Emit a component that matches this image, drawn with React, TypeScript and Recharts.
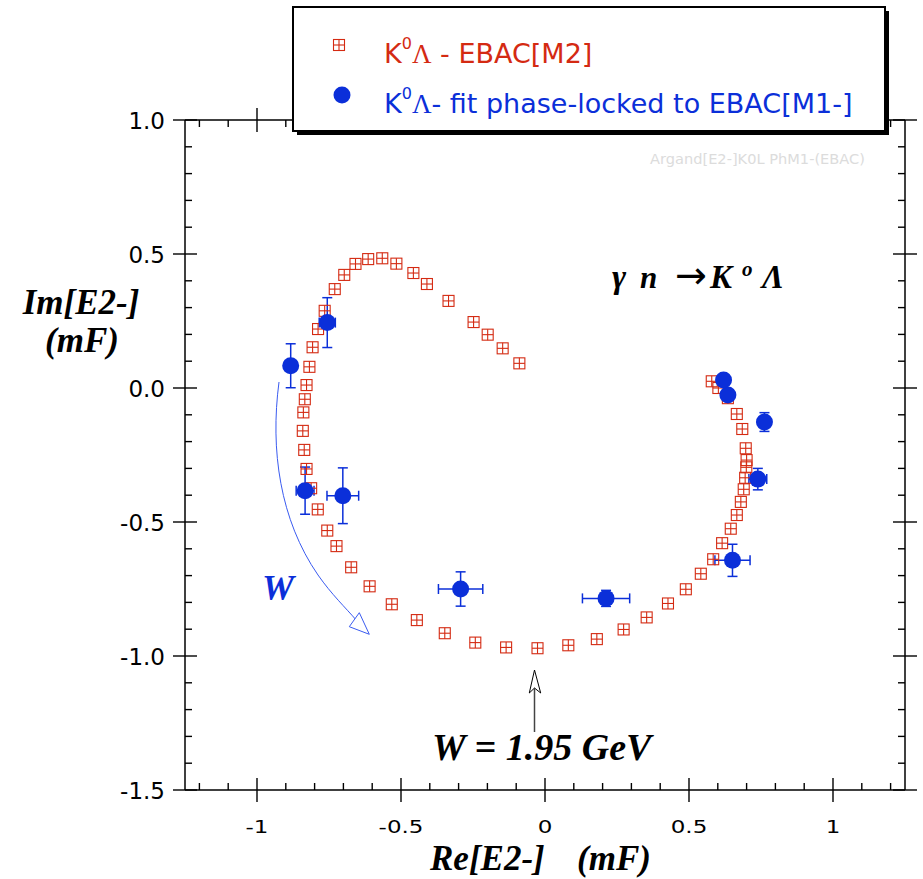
import React from "react";
import { ScatterChart, Scatter, XAxis, YAxis, ErrorBar } from "recharts";

/* ── data (mF) ───────────────────────────────────────────── */
// K0 Lambda - EBAC[M2], red squares, ordered along W
const ebacRe = [
  -0.089, -0.147, -0.199, -0.248, -0.335, -0.41, -0.457, -0.516, -0.565, -0.614,
  -0.658, -0.697, -0.73, -0.765, -0.788, -0.807, -0.818, -0.828, -0.834, -0.839,
  -0.841, -0.836, -0.828, -0.812, -0.789, -0.756, -0.724, -0.673, -0.609, -0.532,
  -0.445, -0.348, -0.242, -0.135, -0.026, 0.081, 0.18, 0.273, 0.353, 0.427,
  0.489, 0.541, 0.584, 0.615, 0.645, 0.666, 0.68, 0.69, 0.695, 0.699,
  0.7, 0.697, 0.685, 0.666, 0.635, 0.602, 0.579,
];
const ebacIm = [
  0.092, 0.148, 0.199, 0.246, 0.325, 0.388, 0.429, 0.464, 0.484, 0.481,
  0.463, 0.422, 0.369, 0.288, 0.22, 0.152, 0.079, 0.011, -0.042, -0.091,
  -0.16, -0.231, -0.302, -0.374, -0.453, -0.532, -0.59, -0.669, -0.74, -0.807,
  -0.866, -0.915, -0.95, -0.968, -0.971, -0.96, -0.937, -0.901, -0.856, -0.804,
  -0.751, -0.693, -0.639, -0.579, -0.525, -0.474, -0.425, -0.378, -0.335, -0.296,
  -0.269, -0.225, -0.153, -0.097, -0.038, 0.0, 0.025,
];

// K0 Lambda fit phase-locked to EBAC[M1-], blue dots
const fitRe = [-0.883, -0.756, -0.833, -0.702, -0.293, 0.212, 0.651, 0.739, 0.762, 0.635, 0.62];
const fitIm = [0.083, 0.244, -0.383, -0.402, -0.75, -0.785, -0.643, -0.34, -0.127, -0.026, 0.03];
const fitReErr = [0.02, 0.028, 0.031, 0.055, 0.077, 0.082, 0.061, 0.031, 0.02, 0.015, 0.015];
const fitImErr = [0.082, 0.093, 0.088, 0.104, 0.064, 0.03, 0.06, 0.04, 0.035, 0.015, 0.015];

// axes
const xTicks = [
  -1.2, -1.1, -1, -0.9, -0.8, -0.7, -0.6, -0.5, -0.4, -0.3, -0.2, -0.1, 0,
  0.1, 0.2, 0.3, 0.4, 0.5, 0.6, 0.7, 0.8, 0.9, 1, 1.1, 1.2,
];
const yTicks = [
  -1.5, -1.4, -1.3, -1.2, -1.1, -1, -0.9, -0.8, -0.7, -0.6, -0.5, -0.4, -0.3,
  -0.2, -0.1, 0, 0.1, 0.2, 0.3, 0.4, 0.5, 0.6, 0.7, 0.8, 0.9, 1,
];
const xMajor = [-1, -0.5, 0, 0.5, 1];
const xMajorLabels = ["-1", "-0.5", "0", "0.5", "1"];
const yMajor = [1, 0.5, 0, -0.5, -1, -1.5];
const yMajorLabels = ["1.0", "0.5", "0.0", "-0.5", "-1.0", "-1.5"];

const ebac = ebacRe.map((x, i) => ({ x, y: ebacIm[i] }));
const fit = fitRe.map((x, i) => ({ x, y: fitIm[i], ex: fitReErr[i], ey: fitImErr[i] }));

const RED = "#d42a12";
const BLUE = "#0b2fd9";
const SANS = "'DejaVu Sans', sans-serif";
const SERIF = "'Liberation Serif', serif";

/* ── ticks: major cross the frame, minor point inward ────── */
// eslint-disable-next-line @typescript-eslint/no-explicit-any
function AxisTick(props: any) {
  const { x, y, payload, side } = props;
  const v = payload.value as number;
  const majors = side === "bottom" || side === "top" ? xMajor : yMajor;
  const labels = side === "bottom" ? xMajorLabels : yMajorLabels;
  const mi = majors.findIndex((m) => Math.abs(m - v) < 1e-6);
  const major = mi >= 0;
  const st = { stroke: "#000", strokeWidth: 1.4 };
  let line;
  if (side === "bottom" || side === "top") {
    if (major) line = <line x1={x} y1={y - 12} x2={x} y2={y + 12} {...st} />;
    else if (side === "bottom") line = <line x1={x} y1={y - 7} x2={x} y2={y} {...st} />;
    else line = <line x1={x} y1={y} x2={x} y2={y + 7} {...st} />;
  } else {
    if (major) line = <line x1={x - 12} y1={y} x2={x + 12} y2={y} {...st} />;
    else if (side === "left") line = <line x1={x} y1={y} x2={x + 7} y2={y} {...st} />;
    else line = <line x1={x - 7} y1={y} x2={x} y2={y} {...st} />;
  }
  return (
    <g>
      {line}
      {major && side === "bottom" && (
        <g transform={`translate(${x},${y + 43}) scale(1,0.8)`}>
          <text textAnchor="middle" fontFamily={SANS} fontSize={23} fill="#000">
            {labels[mi]}
          </text>
        </g>
      )}
      {major && side === "left" && (
        <text x={x - 20} y={y + 8.5} textAnchor="end" fontFamily={SANS} fontSize={23} fill="#000">
          {labels[mi]}
        </text>
      )}
    </g>
  );
}

function RedSquare({ cx, cy }: { cx: number; cy: number }) {
  const h = 5.5;
  return (
    <g stroke={RED} strokeWidth={1.1} fill="none">
      <rect x={cx - h} y={cy - h} width={2 * h} height={2 * h} />
      <line x1={cx} y1={cy - h} x2={cx} y2={cy + h} />
      <line x1={cx - h} y1={cy} x2={cx + h} y2={cy} />
    </g>
  );
}

function BlueDot({ cx, cy }: { cx: number; cy: number }) {
  return <circle cx={cx} cy={cy} r={8.5} fill={BLUE} />;
}

/* ── annotations on top of the plot ──────────────────────── */
function Overlay() {
  const bi = { fontFamily: SERIF, fontWeight: 700, fontStyle: "italic" as const };
  return (
    <svg
      width={923}
      height={879}
      style={{ position: "absolute", left: 0, top: 0, pointerEvents: "none" }}
    >
      {/* legend */}
      <rect x={297} y={11} width={592} height={124} fill="#000" />
      <rect x={293} y={7} width={592} height={124} fill="#fff" stroke="#000" strokeWidth={2} />
      <RedSquare cx={339} cy={45} />
      <text x={384} y={63} fontFamily={SANS} fontSize={27} fill={RED}>
        K
        <tspan fontSize={16} dy={-14}>0</tspan>
        <tspan fontFamily={SERIF} dy={14}>Λ</tspan>
        <tspan> - EBAC[M2]</tspan>
      </text>
      <BlueDot cx={342} cy={95} />
      <text x={384} y={113} fontFamily={SANS} fontSize={27} fill={BLUE}>
        K
        <tspan fontSize={16} dy={-14}>0</tspan>
        <tspan fontFamily={SERIF} dy={14}>Λ</tspan>
        <tspan>- fit phase-locked to EBAC[M1-]</tspan>
      </text>

      <text x={650} y={164} fontFamily={SANS} fontSize={14.6} fill="#dcdcdc">
        Argand[E2-]K0L PhM1-(EBAC)
      </text>

      {/* reaction */}
      <text y={288} fontSize={31} fill="#000" {...bi}>
        <tspan x={612} fontSize={34}>γ</tspan>
        <tspan x={640}>n</tspan>
        <tspan x={675} fontFamily={SANS} fontStyle="normal" fontWeight={400} fontSize={38}>→</tspan>
        <tspan x={710} fontSize={33}>K</tspan>
        <tspan x={742} dy={-12} fontSize={21}>o</tspan>
        <tspan x={762} dy={12} fontSize={33}>Λ</tspan>
      </text>

      {/* axis titles */}
      <text x={81} y={314} textAnchor="middle" fontSize={35} fill="#000" {...bi}>
        Im[E2-]
      </text>
      <text x={82} y={352} textAnchor="middle" fontSize={35} fill="#000" {...bi}>
        (mF)
      </text>
      <text x={430} y={870} fontSize={35} fill="#000" {...bi}>
        Re[E2-]
      </text>
      <text x={577} y={870} fontSize={35} fill="#000" {...bi}>
        (mF)
      </text>

      {/* W direction */}
      <path
        d="M279,382 C270,450 280,520 318,575 C332,595 345,607 357,621"
        fill="none"
        stroke="#3a5bf0"
        strokeWidth={1}
      />
      <path d="M349.3,626.7 L359.3,612.7 L369.3,634.3 Z" fill="#fff" stroke="#3a5bf0" strokeWidth={1} />
      <text x={262} y={600} fontSize={36} fill={BLUE} {...bi}>
        W
      </text>

      {/* W = 1.95 GeV pointer */}
      <line x1={534.5} y1={732} x2={534.5} y2={688} stroke="#444" strokeWidth={1.5} />
      <path d="M534.5,670 L529.3,693 L534.5,688 L540.7,693 Z" fill="#fff" stroke="#000" strokeWidth={1} />
      <text x={432} y={760} fontSize={38} fill="#000" {...bi}>
        W = 1.95 GeV
      </text>
    </svg>
  );
}

export default function App() {
  const axisLine = { stroke: "#000", strokeWidth: 1.5 };
  const dom: [number, number] = [-1.25, 1.25];
  const ydom: [number, number] = [-1.5, 1.0];
  return (
    <div style={{ position: "absolute", left: 0, top: 0, width: 923, height: 879, background: "#fff" }}>
      <ScatterChart width={923} height={879} margin={{ top: 119, right: 17, bottom: 88, left: 184 }}>
        <XAxis
          xAxisId="b"
          type="number"
          dataKey="x"
          domain={dom}
          allowDataOverflow
          ticks={xTicks}
          interval={0}
          height={1}
          tickSize={0}
          tickMargin={0}
          tickLine={false}
          axisLine={axisLine}
          tick={<AxisTick side="bottom" />}
        />
        <XAxis
          xAxisId="t"
          orientation="top"
          type="number"
          dataKey="x"
          domain={dom}
          allowDataOverflow
          ticks={xTicks}
          interval={0}
          height={1}
          tickSize={0}
          tickMargin={0}
          tickLine={false}
          axisLine={axisLine}
          tick={<AxisTick side="top" />}
        />
        <YAxis
          yAxisId="l"
          type="number"
          dataKey="y"
          domain={ydom}
          allowDataOverflow
          ticks={yTicks}
          interval={0}
          width={1}
          tickSize={0}
          tickMargin={0}
          tickLine={false}
          axisLine={axisLine}
          tick={<AxisTick side="left" />}
        />
        <YAxis
          yAxisId="r"
          orientation="right"
          type="number"
          dataKey="y"
          domain={ydom}
          allowDataOverflow
          ticks={yTicks}
          interval={0}
          width={1}
          tickSize={0}
          tickMargin={0}
          tickLine={false}
          axisLine={axisLine}
          tick={<AxisTick side="right" />}
        />
        {/* invisible copy so the mirror axes have a series */}
        <Scatter
          data={ebac}
          xAxisId="t"
          yAxisId="r"
          shape={() => <g />}
          isAnimationActive={false}
        />
        <Scatter
          data={ebac}
          xAxisId="b"
          yAxisId="l"
          shape={(p: any) => <RedSquare cx={p.cx} cy={p.cy} />}
          isAnimationActive={false}
        />
        <Scatter
          data={fit}
          xAxisId="b"
          yAxisId="l"
          shape={(p: any) => <BlueDot cx={p.cx} cy={p.cy} />}
          isAnimationActive={false}
        >
          <ErrorBar dataKey="ex" direction="x" width={5} stroke={BLUE} strokeWidth={1.5} isAnimationActive={false} />
          <ErrorBar dataKey="ey" direction="y" width={5} stroke={BLUE} strokeWidth={1.5} isAnimationActive={false} />
        </Scatter>
      </ScatterChart>
      <Overlay />
    </div>
  );
}
